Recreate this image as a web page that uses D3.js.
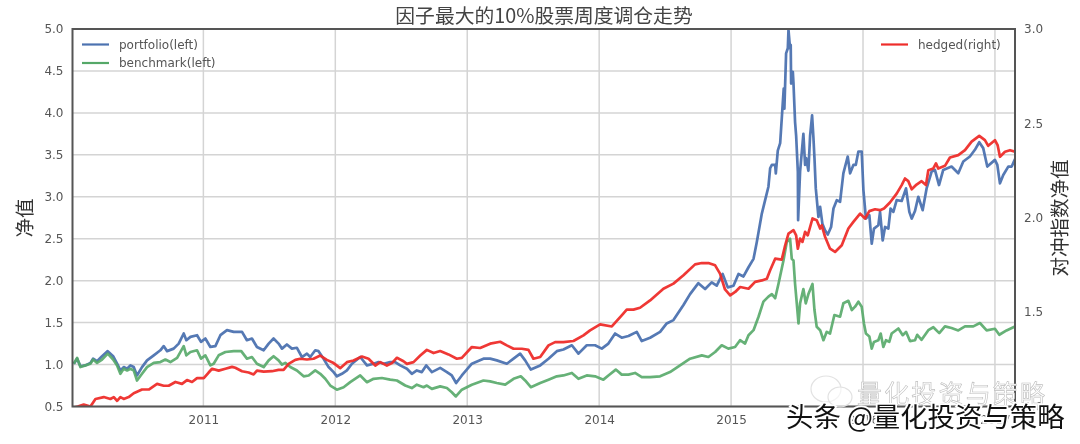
<!DOCTYPE html>
<html><head><meta charset="utf-8">
<script src="https://cdn.jsdelivr.net/npm/d3@7"></script>
<style>
html,body{margin:0;padding:0;background:#fff;}
svg{display:block;filter:blur(0.45px);}
text{font-family:"DejaVu Sans",sans-serif;}
.cjk{font-family:"Noto Sans CJK SC",sans-serif;}
</style></head><body>
<svg id="c" width="1080" height="444"></svg>
<script>
const chartTitle="因子最大的10%股票周度调仓走势";
const leftLabel="净值", rightLabel="对冲指数净值";
const yearTicks=[2011,2012,2013,2014,2015,2016,2017];
const leftTicks=[0.5,1,1.5,2,2.5,3,3.5,4,4.5,5];
const rightTicks=[1,1.5,2,2.5,3];
const portfolioT=[2010.018,2010.043,2010.068,2010.106,2010.144,2010.164,2010.194,2010.232,2010.275,2010.316,2010.346,2010.371,2010.396,2010.422,2010.447,2010.472,2010.497,2010.535,2010.573,2010.624,2010.674,2010.699,2010.725,2010.775,2010.813,2010.851,2010.871,2010.902,2010.952,2010.982,2011.015,2011.053,2011.091,2011.129,2011.179,2011.23,2011.293,2011.33,2011.368,2011.406,2011.457,2011.495,2011.532,2011.57,2011.596,2011.633,2011.671,2011.709,2011.747,2011.785,2011.81,2011.848,2011.873,2011.911,2011.949,2011.987,2012.012,2012.05,2012.088,2012.126,2012.189,2012.24,2012.29,2012.328,2012.366,2012.416,2012.454,2012.492,2012.543,2012.58,2012.618,2012.656,2012.689,2012.732,2012.795,2012.846,2012.883,2012.916,2012.959,2013.035,2013.123,2013.174,2013.224,2013.3,2013.351,2013.401,2013.439,2013.482,2013.553,2013.616,2013.679,2013.729,2013.793,2013.843,2013.906,2013.969,2014.02,2014.07,2014.121,2014.171,2014.222,2014.285,2014.323,2014.386,2014.462,2014.512,2014.563,2014.639,2014.689,2014.752,2014.803,2014.853,2014.891,2014.936,2014.975,2015.018,2015.056,2015.094,2015.132,2015.17,2015.195,2015.233,2015.258,2015.283,2015.296,2015.309,2015.334,2015.339,2015.354,2015.372,2015.389,2015.399,2015.404,2015.417,2015.43,2015.435,2015.447,2015.452,2015.455,2015.468,2015.473,2015.485,2015.493,2015.506,2015.508,2015.523,2015.548,2015.561,2015.569,2015.586,2015.599,2015.614,2015.624,2015.632,2015.642,2015.662,2015.675,2015.692,2015.712,2015.733,2015.758,2015.776,2015.801,2015.826,2015.851,2015.884,2015.902,2015.927,2015.945,2015.965,2015.99,2016.003,2016.022,2016.048,2016.066,2016.083,2016.116,2016.129,2016.149,2016.167,2016.192,2016.209,2016.23,2016.255,2016.293,2016.326,2016.351,2016.369,2016.394,2016.419,2016.452,2016.482,2016.52,2016.545,2016.576,2016.608,2016.671,2016.722,2016.76,2016.81,2016.848,2016.881,2016.911,2016.942,2017,2017.018,2017.038,2017.063,2017.101,2017.127,2017.152];
const portfolioV=[1.01,1.07,.98,.99,1.02,1.07,1.04,1.1,1.16,1.1,1.01,.93,.97,.95,.99,.97,.87,.97,1.05,1.11,1.17,1.22,1.16,1.19,1.25,1.37,1.29,1.33,1.35,1.27,1.31,1.21,1.22,1.35,1.41,1.39,1.39,1.29,1.31,1.21,1.17,1.25,1.31,1.25,1.19,1.24,1.19,1.2,1.09,1.13,1.09,1.17,1.16,1.07,.97,.91,.86,.89,.93,1.01,1.09,.99,1.01,1.03,1.01,1.03,1.03,.99,.95,.89,.93,.91,.99,.91,.96,.91,.87,.78,.87,1.01,1.07,1.07,1.05,1.01,1.07,1.13,1.05,.94,.99,1.07,1.16,1.18,1.23,1.13,1.23,1.23,1.19,1.25,1.37,1.32,1.34,1.39,1.28,1.32,1.39,1.49,1.53,1.71,1.84,1.97,1.9,1.98,1.94,2.08,1.92,1.94,2.08,2.05,2.16,2.26,2.46,2.8,2.96,3.12,3.34,3.38,3.38,3.28,3.55,3.64,4.05,4.29,4.05,4.71,4.77,4.99,4.77,4.81,4.35,4.49,4.35,3.89,3.73,3.3,2.72,3.3,3.75,3.38,3.46,3.31,3.73,3.97,3.71,3.46,3.1,2.76,2.88,2.68,2.6,2.55,2.64,2.86,2.96,2.94,3.28,3.48,3.28,3.38,3.38,3.54,3.54,3.08,2.74,2.78,2.44,2.62,2.66,2.82,2.48,2.64,2.62,2.86,2.82,2.96,2.95,3.1,2.82,2.74,2.83,3,2.84,3.1,3.3,3.32,3.14,3.32,3.36,3.28,3.42,3.48,3.56,3.65,3.58,3.36,3.44,3.38,3.16,3.26,3.36,3.36,3.45];
const benchmarkT=[2010.018,2010.043,2010.068,2010.106,2010.144,2010.164,2010.194,2010.232,2010.275,2010.316,2010.346,2010.371,2010.396,2010.422,2010.447,2010.472,2010.497,2010.535,2010.573,2010.624,2010.674,2010.712,2010.75,2010.801,2010.851,2010.871,2010.902,2010.952,2010.982,2011.015,2011.053,2011.078,2011.116,2011.167,2011.23,2011.287,2011.33,2011.368,2011.406,2011.457,2011.495,2011.532,2011.57,2011.596,2011.621,2011.659,2011.709,2011.76,2011.798,2011.848,2011.886,2011.924,2011.962,2012.012,2012.063,2012.113,2012.189,2012.24,2012.29,2012.353,2012.416,2012.467,2012.53,2012.58,2012.618,2012.669,2012.694,2012.732,2012.795,2012.846,2012.883,2012.914,2012.959,2013.035,2013.123,2013.174,2013.224,2013.288,2013.351,2013.406,2013.439,2013.482,2013.553,2013.616,2013.679,2013.729,2013.793,2013.843,2013.906,2013.969,2014.032,2014.07,2014.126,2014.171,2014.222,2014.272,2014.323,2014.386,2014.462,2014.537,2014.613,2014.689,2014.778,2014.828,2014.879,2014.929,2014.979,2015.03,2015.068,2015.106,2015.132,2015.17,2015.208,2015.245,2015.283,2015.309,2015.334,2015.359,2015.397,2015.422,2015.447,2015.46,2015.473,2015.485,2015.498,2015.511,2015.523,2015.548,2015.566,2015.586,2015.617,2015.632,2015.649,2015.675,2015.7,2015.725,2015.75,2015.783,2015.826,2015.851,2015.889,2015.915,2015.94,2015.965,2015.99,2016.007,2016.022,2016.048,2016.066,2016.083,2016.116,2016.134,2016.154,2016.174,2016.199,2016.217,2016.268,2016.301,2016.326,2016.356,2016.394,2016.411,2016.444,2016.495,2016.533,2016.578,2016.621,2016.671,2016.722,2016.773,2016.836,2016.886,2016.937,2017,2017.033,2017.088,2017.152];
const benchmarkV=[1.01,1.08,.97,.99,1.01,1.06,1.02,1.06,1.13,1.06,.99,.89,.95,.93,.95,.93,.81,.89,.97,1.02,1.03,1.06,1.03,1.08,1.22,1.11,1.15,1.17,1.07,1.11,.99,1.01,1.11,1.15,1.16,1.16,1.07,1.09,1.01,.97,1.05,1.1,1.05,1,1.02,.97,.93,.86,.87,.93,.89,.83,.75,.7,.73,.79,.87,.79,.83,.84,.82,.81,.75,.72,.76,.73,.75,.71,.74,.72,.67,.62,.7,.76,.81,.8,.78,.76,.83,.86,.81,.73,.78,.82,.86,.87,.9,.83,.87,.86,.82,.87,.94,.88,.88,.9,.85,.85,.86,.91,.99,1.07,1.11,1.09,1.15,1.23,1.19,1.21,1.29,1.25,1.35,1.41,1.57,1.75,1.81,1.84,1.79,1.96,2.24,2.46,2.5,2.26,2.24,1.96,1.73,1.49,1.73,1.9,1.73,1.84,1.96,1.65,1.45,1.41,1.29,1.39,1.37,1.59,1.57,1.73,1.76,1.65,1.69,1.75,1.69,1.49,1.37,1.335,1.19,1.27,1.29,1.37,1.21,1.29,1.27,1.37,1.43,1.35,1.39,1.28,1.29,1.355,1.295,1.41,1.445,1.375,1.455,1.435,1.407,1.455,1.455,1.495,1.407,1.427,1.355,1.407,1.455];
const hedgedT=[2010.018,2010.048,2010.093,2010.144,2010.182,2010.245,2010.295,2010.321,2010.346,2010.371,2010.396,2010.434,2010.472,2010.535,2010.586,2010.649,2010.699,2010.737,2010.788,2010.838,2010.876,2010.914,2010.952,2011.003,2011.04,2011.066,2011.116,2011.167,2011.217,2011.242,2011.293,2011.343,2011.381,2011.406,2011.457,2011.52,2011.57,2011.608,2011.646,2011.697,2011.734,2011.785,2011.835,2011.886,2011.936,2011.987,2012.037,2012.088,2012.138,2012.202,2012.252,2012.303,2012.341,2012.391,2012.429,2012.467,2012.517,2012.543,2012.593,2012.644,2012.694,2012.745,2012.795,2012.858,2012.921,2012.959,2013.035,2013.098,2013.174,2013.25,2013.3,2013.351,2013.414,2013.464,2013.502,2013.553,2013.616,2013.666,2013.729,2013.805,2013.881,2013.931,2014.007,2014.096,2014.171,2014.209,2014.26,2014.31,2014.386,2014.487,2014.563,2014.639,2014.727,2014.778,2014.828,2014.879,2014.916,2014.954,2014.993,2015.031,2015.069,2015.132,2015.182,2015.233,2015.271,2015.296,2015.334,2015.384,2015.41,2015.435,2015.473,2015.493,2015.506,2015.523,2015.541,2015.561,2015.581,2015.617,2015.649,2015.675,2015.687,2015.713,2015.75,2015.788,2015.839,2015.889,2015.927,2015.978,2016.015,2016.048,2016.091,2016.129,2016.159,2016.204,2016.255,2016.293,2016.318,2016.343,2016.369,2016.406,2016.444,2016.477,2016.495,2016.533,2016.553,2016.57,2016.621,2016.659,2016.722,2016.773,2016.823,2016.881,2016.924,2016.949,2017,2017.02,2017.038,2017.076,2017.114,2017.152];
const hedgedV=[.995,1,1.01,1,1.04,1.05,1.04,1.05,1.03,1.05,1.04,1.05,1.07,1.09,1.09,1.12,1.11,1.11,1.13,1.12,1.14,1.13,1.15,1.15,1.18,1.2,1.19,1.2,1.21,1.205,1.187,1.18,1.17,1.19,1.185,1.187,1.194,1.194,1.226,1.247,1.253,1.249,1.253,1.27,1.247,1.23,1.203,1.235,1.244,1.265,1.253,1.217,1.235,1.217,1.23,1.258,1.24,1.226,1.235,1.27,1.3,1.283,1.294,1.276,1.253,1.258,1.315,1.31,1.333,1.343,1.324,1.306,1.306,1.3,1.253,1.262,1.324,1.341,1.341,1.347,1.377,1.403,1.435,1.424,1.483,1.513,1.513,1.523,1.562,1.624,1.651,1.695,1.753,1.76,1.76,1.748,1.704,1.62,1.589,1.607,1.633,1.624,1.66,1.668,1.677,1.722,1.783,1.778,1.854,1.916,1.934,1.907,1.836,1.89,1.872,1.925,1.907,1.996,1.987,1.943,1.96,1.898,1.836,1.819,1.854,1.943,1.978,2.022,1.996,2.035,2.045,2.04,2.049,2.081,2.128,2.173,2.208,2.194,2.151,2.176,2.194,2.173,2.252,2.261,2.288,2.261,2.275,2.319,2.332,2.358,2.403,2.434,2.411,2.381,2.411,2.385,2.323,2.35,2.358,2.35];
const legendLeft=["portfolio(left)","benchmark(left)"], legendRight=["hedged(right)"];
const watermarkFaint="量化投资与策略", watermarkDark="头条 @量化投资与策略";

const W=1080,H=444,m={l:72.5,r:1015,t:29,b:406.5};
const svg=d3.select("#c");
const x=d3.scaleLinear().domain([2010.008,2017.152]).range([m.l,m.r]);
const yL=d3.scaleLinear().domain([0.5,5]).range([m.b,m.t]);
const yR=d3.scaleLinear().domain([1,3]).range([m.b,m.t]);
const inkT="#555555", grid="#d4d4d4", spine="#555555";
svg.append("g").selectAll("line").data(yearTicks).join("line")
 .attr("x1",d=>x(d)).attr("x2",d=>x(d)).attr("y1",m.t).attr("y2",m.b).attr("stroke",grid).attr("stroke-width",1.5);
svg.append("g").selectAll("line").data(leftTicks).join("line")
 .attr("y1",d=>yL(d)).attr("y2",d=>yL(d)).attr("x1",m.l).attr("x2",m.r).attr("stroke",grid).attr("stroke-width",1.5);
svg.append("defs").append("clipPath").attr("id","pl").append("rect")
 .attr("x",m.l).attr("y",m.t).attr("width",m.r-m.l).attr("height",m.b-m.t);
const lines=svg.append("g").attr("clip-path","url(#pl)").attr("fill","none").attr("stroke-width",2.7).attr("stroke-linejoin","round");
const mk=(T,V,y)=>d3.line().x((d,i)=>x(T[i])).y(d=>y(d))(V);
lines.append("path").attr("d",mk(portfolioT,portfolioV,yL)).attr("stroke","#4c72b0").attr("opacity",.95);
lines.append("path").attr("d",mk(benchmarkT,benchmarkV,yL)).attr("stroke","#55a868").attr("opacity",.9);
lines.append("path").attr("d",mk(hedgedT,hedgedV,yR)).attr("stroke","#ee2d2a").attr("opacity",.95);
svg.append("rect").attr("x",m.l).attr("y",m.t).attr("width",m.r-m.l).attr("height",m.b-m.t)
 .attr("fill","none").attr("stroke",spine).attr("stroke-width",2);
function clean(g){g.select(".domain").remove();g.selectAll("line").remove();
 g.selectAll("text").attr("fill",inkT).attr("font-size",12).attr("font-family",'"DejaVu Sans",sans-serif');}
svg.append("g").attr("transform",`translate(${m.l},0)`)
 .call(d3.axisLeft(yL).tickValues(leftTicks).tickFormat(d3.format(".1f")).tickSize(0).tickPadding(9)).call(clean);
svg.append("g").attr("transform",`translate(${m.r},0)`)
 .call(d3.axisRight(yR).tickValues(rightTicks).tickFormat(d3.format(".1f")).tickSize(0).tickPadding(9)).call(clean);
svg.append("g").attr("transform",`translate(0,${m.b})`)
 .call(d3.axisBottom(x).tickValues(yearTicks).tickFormat(d3.format("d")).tickSize(0).tickPadding(9)).call(clean);
svg.append("text").attr("class","cjk").attr("x",544).attr("y",23).attr("text-anchor","middle")
 .attr("font-size",19.8).attr("fill","#444").text(chartTitle);
svg.append("text").attr("class","cjk").attr("transform","translate(32,218) rotate(-90)").attr("text-anchor","middle")
 .attr("font-size",19.5).attr("fill","#333").text(leftLabel);
svg.append("text").attr("class","cjk").attr("transform","translate(1067,218) rotate(-90)").attr("text-anchor","middle")
 .attr("font-size",19.5).attr("fill","#333").text(rightLabel);
const lg=[[legendLeft[0],"#4c72b0",82,44.5],[legendLeft[1],"#55a868",82,63],[legendRight[0],"#ee2d2a",881,44.5]];
lg.forEach(([t,c,lx,ly])=>{
 svg.append("line").attr("x1",lx).attr("x2",lx+27).attr("y1",ly).attr("y2",ly).attr("stroke",c).attr("stroke-width",2.2);
 svg.append("text").attr("x",lx+37).attr("y",ly+4).attr("font-size",12).attr("fill",inkT).text(t);
});
const wm=svg.append("g");
wm.append("ellipse").attr("cx",826).attr("cy",389).attr("rx",15).attr("ry",13).attr("fill","#fff").attr("fill-opacity",.6).attr("stroke","#e2e2e2").attr("stroke-width",1.2);
wm.append("ellipse").attr("cx",840).attr("cy",397).attr("rx",12).attr("ry",10).attr("fill","#fff").attr("fill-opacity",.6).attr("stroke","#e2e2e2").attr("stroke-width",1.2);
wm.append("text").attr("class","cjk").attr("x",857).attr("y",403).attr("font-size",25).attr("fill","#fff").attr("stroke","#bdbdbd").attr("stroke-width",.6).attr("textLength",188).text(watermarkFaint);
wm.append("text").attr("class","cjk").attr("x",786).attr("y",427).attr("font-size",27.4).attr("fill","#111")
 .attr("stroke","#fff").attr("stroke-width",3.5).attr("paint-order","stroke").text(watermarkDark);
</script>
</body></html>
